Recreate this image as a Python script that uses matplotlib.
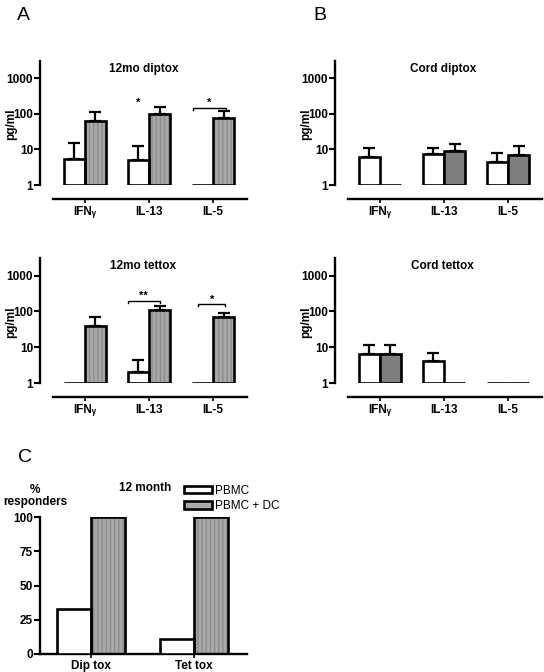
import matplotlib
matplotlib.use('Agg')
import matplotlib.pyplot as plt
import numpy as np
from matplotlib.patches import Patch

plt.rcParams['font.family'] = ['Liberation Sans', 'DejaVu Sans']
plt.rcParams['hatch.linewidth'] = 1.0

cytokines = ['IFNᵧ', 'IL-13', 'IL-5']

# panel A (12 month), values in pg/ml; None = no error bar
dip12_pbmc = [5.4, 5.2, 1.0]
dip12_pbmc_err = [15, 12.6, None]
dip12_dc = [63, 100, 77]
dip12_dc_err = [114, 155, 120]

tet12_pbmc = [1.0, 2.0, 1.0]
tet12_pbmc_err = [None, 4.4, None]
tet12_dc = [40, 107, 68]
tet12_dc_err = [72, 138, 93]

# panel B (cord)
dipcord_pbmc = [6.2, 7.5, 4.4]
dipcord_pbmc_err = [11, 11, 8]
dipcord_dc = [1.0, 9.1, 7.0]
dipcord_dc_err = [None, 14.3, 12.6]

tetcord_pbmc = [6.6, 4.2, 1.0]
tetcord_pbmc_err = [11.7, 7, None]
tetcord_dc = [6.6, 1.0, 1.0]
tetcord_dc_err = [11.7, None, None]

# panel C
toxins = ['Dip tox', 'Tet tox']
resp_pbmc = [33, 11]
resp_dc = [100, 100]

W = 0.33
LW = 1.9
HATCH_FACE = '#a9a9a9'
HATCH_LINE = '#8c8c8c'
SOLID_GRAY = '#7f7f7f'


def draw_bars(ax, x, vals, bottom, color, hatched):
    if hatched:
        ax.bar(x, np.array(vals) - bottom, W, bottom=bottom, align='edge',
               color=HATCH_FACE, edgecolor=HATCH_LINE, hatch='||||', linewidth=0, zorder=2)
        ax.bar(x, np.array(vals) - bottom, W, bottom=bottom, align='edge',
               fill=False, edgecolor='k', linewidth=LW, zorder=3)
    else:
        ax.bar(x, np.array(vals) - bottom, W, bottom=bottom, align='edge',
               color=color, edgecolor='k', linewidth=LW, zorder=3)


def draw_err(ax, x, vals, errs):
    for xi, v, e in zip(x, vals, errs):
        if e is None:
            continue
        ax.errorbar(xi + W / 2, v, yerr=[[0], [e - v]], fmt='none', ecolor='k',
                    elinewidth=1.6, capsize=4, capthick=1.6, zorder=1)


def bracket(ax, x0, x1, y, label):
    h = y * 0.12
    ax.plot([x0, x0, x1, x1], [y - h, y, y, y - h], color='k', lw=1.0, zorder=4)
    ax.text((x0 + x1) / 2, y * 0.98, label, ha='center', va='bottom',
            fontsize=8, fontweight='bold')


def cyto_panel(rect, title, pbmc, pbmc_err, dc, dc_err, dc_hatched, tx):
    ax = fig.add_axes(rect)
    x = np.arange(len(cytokines))
    draw_bars(ax, x - W, pbmc, 1.0, 'white', False)
    draw_bars(ax, x, dc, 1.0, SOLID_GRAY, dc_hatched)
    draw_err(ax, x - W, pbmc, pbmc_err)
    draw_err(ax, x, dc, dc_err)
    ax.set_yscale('log')
    ax.set_ylim(1, 3100)
    ax.set_xlim(-0.70, 2.53)
    ax.set_yticks([1, 10, 100, 1000])
    ax.set_yticklabels(['1', '10', '100', '1000'])
    ax.yaxis.set_minor_locator(matplotlib.ticker.NullLocator())
    ax.set_xticks(x)
    ax.set_xticklabels(cytokines)
    for s in ['top', 'right']:
        ax.spines[s].set_visible(False)
    ax.spines['left'].set_linewidth(1.7)
    ax.spines['bottom'].set_linewidth(1.7)
    ax.spines['bottom'].set_position(('outward', 10))
    ax.spines['bottom'].set_bounds(-0.5, 2.53)
    ax.tick_params(axis='y', length=4, width=1.5, pad=1, labelsize=8.5)
    ax.tick_params(axis='x', length=3, width=1.2, pad=2, labelsize=8.5)
    for lab in ax.get_xticklabels() + ax.get_yticklabels():
        lab.set_fontweight('bold')
    ax.text(tx, 0.935, title, transform=ax.transAxes, ha='center', va='center',
            fontsize=8.5, fontweight='bold')
    ax.text(-0.14, 0.49, 'pg/ml', transform=ax.transAxes, rotation=90,
            ha='center', va='center', fontsize=8.5, fontweight='bold')
    return ax


fig = plt.figure(figsize=(5.44, 6.72), dpi=100)

axw = 207 / 544
ax1 = cyto_panel([40 / 544, 1 - 185 / 672, axw, 124 / 672], '12mo diptox',
                 dip12_pbmc, dip12_pbmc_err, dip12_dc, dip12_dc_err, True, 0.50)
ax1.text(1 - W / 2, 150, '*', ha='center', va='bottom', fontsize=8, fontweight='bold')
bracket(ax1, 2 - 0.33 + 0.02, 2 + 0.2, 150, '*')

ax2 = cyto_panel([335 / 544, 1 - 185 / 672, axw, 124 / 672], 'Cord diptox',
                 dipcord_pbmc, dipcord_pbmc_err, dipcord_dc, dipcord_dc_err, False, 0.52)

ax3 = cyto_panel([40 / 544, 1 - 383 / 672, axw, 125 / 672], '12mo tettox',
                 tet12_pbmc, tet12_pbmc_err, tet12_dc, tet12_dc_err, True, 0.50)
bracket(ax3, 1 - 0.33, 1 + 0.17, 200, '**')
bracket(ax3, 2 - 0.23, 2 + 0.19, 160, '*')

ax4 = cyto_panel([335 / 544, 1 - 383 / 672, axw, 125 / 672], 'Cord tettox',
                 tetcord_pbmc, tetcord_pbmc_err, tetcord_dc, tetcord_dc_err, False, 0.52)

# panel C
axc = fig.add_axes([40 / 544, 1 - 654 / 672, axw, 137 / 672])
xc = np.arange(len(toxins))
draw_bars(axc, xc - W, resp_pbmc, 0, 'white', False)
draw_bars(axc, xc, resp_dc, 0, SOLID_GRAY, True)
axc.set_ylim(0, 100)
axc.set_xlim(-0.495, 1.515)
axc.set_yticks([0, 25, 50, 75, 100])
axc.set_xticks(xc)
axc.set_xticklabels(toxins)
for s in ['top', 'right']:
    axc.spines[s].set_visible(False)
axc.spines['left'].set_linewidth(1.7)
axc.spines['bottom'].set_linewidth(1.7)
axc.tick_params(axis='y', length=4, width=1.5, pad=1, labelsize=8.5)
axc.tick_params(axis='x', length=3, width=1.2, pad=1, labelsize=8.5)
for lab in axc.get_xticklabels() + axc.get_yticklabels():
    lab.set_fontweight('bold')
axc.text(0.507, 1.21, '12 month', transform=axc.transAxes, ha='center', va='center',
         fontsize=8.5, fontweight='bold')
axc.text(-0.024, 1.153, '%\nresponders', transform=axc.transAxes, ha='center',
         va='center', fontsize=8.5, fontweight='bold', linespacing=1.1)

h1 = Patch(facecolor='white', edgecolor='k', linewidth=LW)
h2 = Patch(facecolor=HATCH_FACE, edgecolor='k', linewidth=LW)
axc.legend([h1, h2], ['PBMC', 'PBMC + DC'], loc='upper left',
           bbox_to_anchor=(0.696, 1.235), frameon=False, fontsize=8.5,
           handlelength=2.4, handleheight=0.6, handletextpad=0.2,
           labelspacing=0.3, borderpad=0, borderaxespad=0)

fig.text(23 / 544, 1 - 15 / 672, 'A', fontsize=14, ha='center', va='center')
fig.text(320 / 544, 1 - 15 / 672, 'B', fontsize=14, ha='center', va='center')
fig.text(25 / 544, 1 - 458 / 672, 'C', fontsize=14, ha='center', va='center')

fig.savefig('out.png', dpi=100)
